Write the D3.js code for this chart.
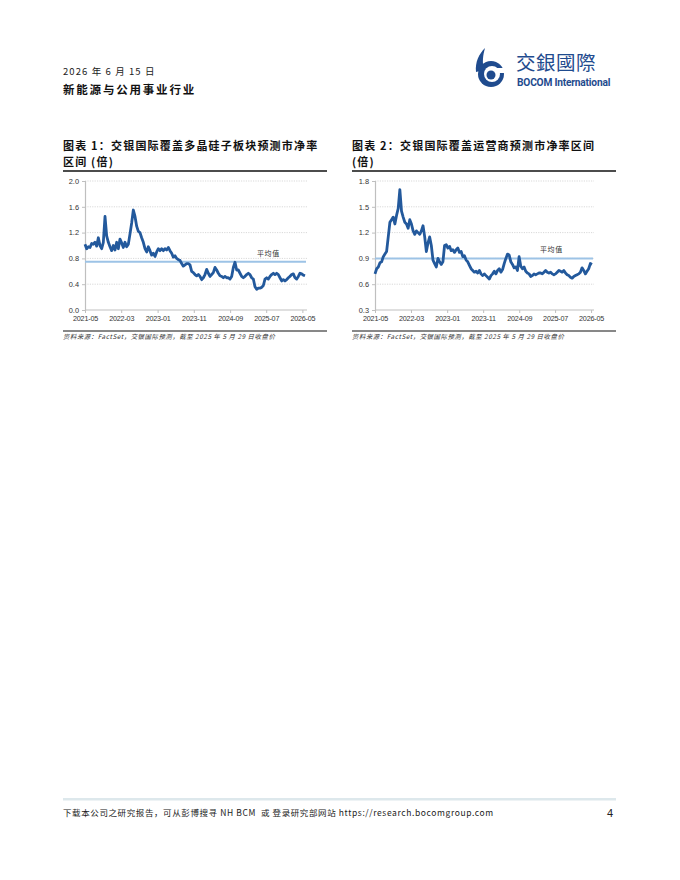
<!DOCTYPE html>
<html>
<head>
<meta charset="utf-8">
<title>交银国际 市净率区间</title>
<script src="https://cdn.jsdelivr.net/npm/d3@7"></script>
<style>
	body { margin: 0; background: #fff; }
	svg { display: block; }
	.cjk { font-family: "Noto Sans CJK SC", sans-serif; }
</style>
</head>
<body>
<svg id="page" width="680" height="880"></svg>
<script>
// ---- data: 预测市净率 (倍), one reading every 14 days from 2021-05-01 ----
const startDay = "2021-05-01"
const stepDays = 14
const tickLabels = ["2021-05", "2022-03", "2023-01", "2023-11", "2024-09", "2025-07", "2026-05"]

// 多晶硅子板块
const pbPoly = [
	1.02, 0.95, 0.98, 0.97, 1.03, 1.02, 1.05, 0.99, 1.12, 1.00,
	0.95, 1.05, 1.45, 1.15, 1.05, 0.98, 0.92, 1.00, 0.93, 1.05,
	0.95, 1.10, 1.04, 0.97, 1.05, 0.98, 1.02, 1.18, 1.35, 1.55,
	1.45, 1.30, 1.22, 1.20, 1.12, 1.05, 0.95, 0.90, 0.98, 0.92,
	0.85, 0.88, 0.83, 0.90, 0.95, 0.92, 0.95, 0.92, 0.95, 0.93,
	0.97, 0.92, 0.88, 0.82, 0.84, 0.80, 0.78, 0.77, 0.72, 0.68,
	0.70, 0.72, 0.72, 0.70, 0.60, 0.58, 0.55, 0.53, 0.55, 0.52,
	0.47, 0.50, 0.55, 0.63, 0.57, 0.52, 0.55, 0.58, 0.66, 0.62,
	0.57, 0.53, 0.52, 0.50, 0.52, 0.50, 0.50, 0.48, 0.52, 0.66,
	0.74, 0.62, 0.62, 0.57, 0.52, 0.50, 0.52, 0.55, 0.57, 0.55,
	0.50, 0.48, 0.36, 0.32, 0.34, 0.34, 0.35, 0.38, 0.48, 0.50,
	0.48, 0.52, 0.55, 0.57, 0.55, 0.57, 0.55, 0.50, 0.45, 0.47,
	0.45, 0.47, 0.50, 0.52, 0.55, 0.56, 0.50, 0.48, 0.52, 0.57,
	0.56, 0.54, 0.53
]
const avgPoly = 0.75

// 运营商
const pbOperator = [
	0.72, 0.78, 0.80, 0.85, 0.86, 0.92, 0.95, 0.98, 1.15, 1.32,
	1.35, 1.38, 1.30, 1.40, 1.48, 1.70, 1.45, 1.38, 1.32, 1.30,
	1.25, 1.35, 1.30, 1.22, 1.18, 1.22, 1.20, 1.18, 1.22, 1.28,
	1.15, 0.98, 1.08, 1.15, 1.05, 0.88, 0.84, 0.80, 0.90, 0.86,
	0.83, 0.86, 1.05, 1.06, 1.02, 1.04, 0.99, 1.00, 0.97, 1.00,
	1.02, 0.97, 0.98, 0.92, 0.93, 0.88, 0.86, 0.82, 0.78, 0.76,
	0.74, 0.75, 0.73, 0.76, 0.72, 0.70, 0.72, 0.70, 0.68, 0.66,
	0.70, 0.72, 0.75, 0.72, 0.76, 0.78, 0.74, 0.77, 0.84, 0.90,
	0.95, 0.94, 0.86, 0.83, 0.79, 0.80, 0.76, 0.92, 0.81, 0.78,
	0.80, 0.75, 0.73, 0.72, 0.69, 0.70, 0.72, 0.71, 0.72, 0.73,
	0.73, 0.72, 0.74, 0.76, 0.74, 0.73, 0.74, 0.72, 0.71, 0.72,
	0.74, 0.76, 0.75, 0.74, 0.76, 0.73, 0.71, 0.70, 0.68, 0.67,
	0.69, 0.70, 0.71, 0.72, 0.74, 0.79, 0.76, 0.72, 0.75, 0.78,
	0.84, 0.83
]
const avgOperator = 0.9

const yTicksPoly = [0, 0.4, 0.8, 1.2, 1.6, 2.0]
const yTicksOperator = [0.3, 0.6, 0.9, 1.2, 1.5, 1.8]

const svg = d3.select("#page")
const navy = "#1f4b8e"
const lineBlue = "#23599c"
const avgBlue = "#9dc3e6"

// ---- header ----
svg.append("text").attr("class", "cjk")
	.attr("x", 63).attr("y", 75)
	.attr("font-size", 9.5).attr("fill", "#222")
	.attr("letter-spacing", 1.1).attr("xml:space", "preserve")
	.text("2026 年 6 月 15 日")
svg.append("text").attr("class", "cjk")
	.attr("x", 63).attr("y", 94)
	.attr("font-size", 11.5).attr("font-weight", "bold")
	.attr("letter-spacing", 1.8).attr("fill", "#111")
	.text("新能源与公用事业行业")

// logo
const logo = svg.append("g").attr("transform", "translate(475,48)")
logo.append("path")
	.attr("d", "M10,0 C4,6 0,14 1,24 L9,22 C7,14 8,7 10,0 Z")
	.attr("fill", navy)
logo.append("circle").attr("cx", 16).attr("cy", 26).attr("r", 13).attr("fill", navy)
logo.append("circle").attr("cx", 17).attr("cy", 26).attr("r", 8).attr("fill", "#fff")
logo.append("circle").attr("cx", 16).attr("cy", 27).attr("r", 4.5).attr("fill", navy)
logo.append("rect").attr("x", 21).attr("y", 20).attr("width", 10).attr("height", 5).attr("fill", "#fff")
svg.append("text").attr("class", "cjk")
	.attr("x", 516).attr("y", 70)
	.attr("font-size", 19.5).attr("fill", navy)
	.attr("letter-spacing", 0.5)
	.text("交銀國際")
svg.append("text")
	.attr("x", 517).attr("y", 85.5)
	.attr("font-family", "Roboto, 'Liberation Sans', sans-serif")
	.attr("font-size", 10.2).attr("font-weight", "bold").attr("fill", navy)
	.attr("letter-spacing", -0.2)
	.text("BOCOM International")

// ---- charts ----
function drawChart(cfg) {
	const g = svg.append("g")
	const dates = cfg.values.map((v, i) => d3.timeDay.offset(new Date(startDay + "T00:00:00"), stepDays * i))

	// title
	cfg.title.forEach((t, i) => {
		g.append("text").attr("class", "cjk")
			.attr("x", cfg.left).attr("y", 150 + i * 16)
			.attr("font-size", 11).attr("font-weight", "bold")
			.attr("letter-spacing", 1.2).attr("fill", "#111")
			.text(t)
	})
	g.append("line")
		.attr("x1", cfg.left).attr("x2", cfg.right)
		.attr("y1", 171).attr("y2", 171)
		.attr("stroke", "#111").attr("stroke-width", 1.3)

	const x = d3.scaleTime()
		.domain(d3.extent(dates))
		.range([cfg.axisX, cfg.plotRight])
	const y = d3.scaleLinear()
		.domain(cfg.yDomain)
		.range([310, 181])

	// gridlines
	g.selectAll(".grid")
		.data(cfg.yTicks.slice(1))
		.enter().append("line")
		.attr("x1", cfg.axisX).attr("x2", cfg.plotRight + 2)
		.attr("y1", d => y(d)).attr("y2", d => y(d))
		.attr("stroke", "#c8c8c8").attr("stroke-width", 0.7)
		.attr("stroke-dasharray", "1.2,1.2")

	// y axis
	const yAxis = g.append("g")
		.attr("transform", `translate(${cfg.axisX},0)`)
		.call(d3.axisLeft(y).tickValues(cfg.yTicks).tickFormat(d3.format(".1f")).tickSize(3).tickPadding(3))
	yAxis.select(".domain").attr("stroke", "#bfbfbf").attr("stroke-width", 1.2)
	yAxis.selectAll(".tick line").attr("stroke", "#bfbfbf")
	yAxis.selectAll("text")
		.attr("font-family", "'Liberation Sans', sans-serif")
		.attr("font-size", 7.4).attr("fill", "#333")

	// x axis
	const tickDates = tickLabels.map(s => d3.timeParse("%Y-%m")(s))
	const xAxis = g.append("g")
		.attr("transform", "translate(0,310)")
		.call(d3.axisBottom(x).tickValues(tickDates).tickFormat(d3.timeFormat("%Y-%m")).tickSize(3).tickSizeOuter(0).tickPadding(3))
	xAxis.select(".domain").attr("stroke", "#bfbfbf").attr("stroke-width", 1)
		.attr("d", `M${cfg.axisX},0H${cfg.plotRight + 2}`)
	xAxis.selectAll(".tick line").attr("stroke", "#bfbfbf")
	xAxis.selectAll("text")
		.attr("font-family", "'Liberation Sans', sans-serif")
		.attr("font-size", 7.2).attr("fill", "#333")
		.attr("letter-spacing", -0.2)

	// average line
	g.append("line")
		.attr("x1", cfg.axisX).attr("x2", cfg.plotRight + 1)
		.attr("y1", y(cfg.avg)).attr("y2", y(cfg.avg))
		.attr("stroke", avgBlue).attr("stroke-width", 2)
	g.append("text").attr("class", "cjk")
		.attr("x", cfg.avgLabelX).attr("y", y(cfg.avg) - 6)
		.attr("font-size", 7).attr("fill", "#333")
		.attr("letter-spacing", 0.6)
		.text("平均值")

	// series
	g.append("path")
		.datum(cfg.values)
		.attr("d", d3.line().x((d, i) => x(dates[i])).y(d => y(d)))
		.attr("fill", "none")
		.attr("stroke", lineBlue).attr("stroke-width", 2.8)
		.attr("stroke-linejoin", "round")

	// source
	g.append("line")
		.attr("x1", cfg.left).attr("x2", cfg.right)
		.attr("y1", 331).attr("y2", 331)
		.attr("stroke", "#111").attr("stroke-width", 1)
	g.append("text").attr("class", "cjk")
		.attr("x", cfg.left).attr("y", 339)
		.attr("font-size", 6.4).attr("font-style", "italic").attr("fill", "#333")
		.attr("letter-spacing", 0.55)
		.text("资料来源：FactSet，交银国际预测，截至 2025 年 5 月 29 日收盘价")
}

drawChart({
	left: 63, right: 327,
	title: ["图表 1：交银国际覆盖多晶硅子板块预测市净率", "区间 (倍)"],
	axisX: 85, plotRight: 305,
	yDomain: [0, 2], yTicks: yTicksPoly,
	values: pbPoly, avg: avgPoly, avgLabelX: 257
})
drawChart({
	left: 352, right: 616,
	title: ["图表 2：交银国际覆盖运营商预测市净率区间", "(倍)"],
	axisX: 375, plotRight: 592,
	yDomain: [0.3, 1.8], yTicks: yTicksOperator,
	values: pbOperator, avg: avgOperator, avgLabelX: 540
})

// ---- footer ----
svg.append("rect")
	.attr("x", 63).attr("y", 798).attr("width", 553).attr("height", 2.5)
	.attr("fill", "#dde8ec")
svg.append("text").attr("class", "cjk")
	.attr("x", 63).attr("y", 816)
	.attr("font-size", 8.5).attr("fill", "#222")
	.attr("letter-spacing", 0.6).attr("xml:space", "preserve")
	.text("下载本公司之研究报告，可从彭博搜寻 NH BCM  或 登录研究部网站 https://research.bocomgroup.com")
svg.append("text")
	.attr("x", 613).attr("y", 817).attr("text-anchor", "end")
	.attr("font-family", "'Liberation Sans', sans-serif")
	.attr("font-size", 11).attr("fill", "#222")
	.text("4")
</script>
</body>
</html>
